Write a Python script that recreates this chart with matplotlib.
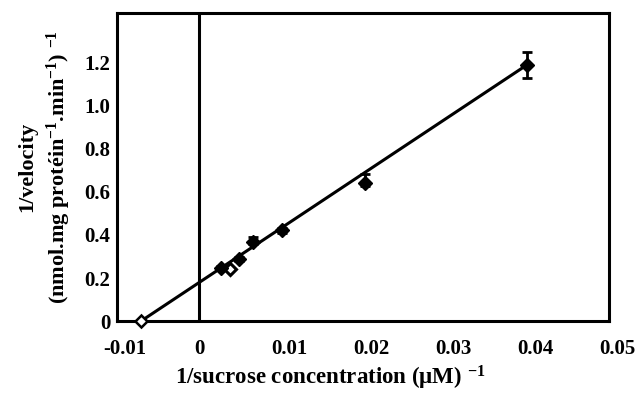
import numpy as np
import matplotlib
matplotlib.use("Agg")
import matplotlib.pyplot as plt
import matplotlib.transforms as mtrans

plt.rcParams['font.family'] = ['Liberation Serif', 'DejaVu Serif']
plt.rcParams['font.weight'] = 'bold'
plt.rcParams['axes.labelweight'] = 'bold'
plt.rcParams['mathtext.fontset'] = 'custom'
plt.rcParams['mathtext.rm'] = 'Liberation Serif:bold'
plt.rcParams['mathtext.it'] = 'Liberation Serif:bold'
plt.rcParams['mathtext.bf'] = 'Liberation Serif:bold'

# 測定点 (1/S, 1/v)
inv_s = [0.0026, 0.0048, 0.0066, 0.0101, 0.0202, 0.0400]
inv_v = [0.245, 0.287, 0.366, 0.421, 0.639, 1.190]
err_up = [0.010, 0.010, 0.025, 0.010, 0.045, 0.060]
err_dn = [0.010, 0.010, 0.010, 0.010, 0.010, 0.060]

# 白抜きの点
open_s = [0.0038]
open_v = [0.241]

# 回帰直線 (x切片 -> 最後の点)
fit_s = [-0.0071, 0.0400]
fit_v = [0.0, 1.190]

xticks = [-0.01, 0, 0.01, 0.02, 0.03, 0.04, 0.05]
xtick_labels = ["-0.01", "0", "0.01", "0.02", "0.03", "0.04", "0.05"]
yticks = [0, 0.2, 0.4, 0.6, 0.8, 1.0, 1.2]
ytick_labels = ["0", "0.2", "0.4", "0.6", "0.8", "1.0", "1.2"]

fig = plt.figure(figsize=(6.44, 3.94), dpi=100)
ax = fig.add_axes([0.182, 0.185, 0.764, 0.782])

ax.plot(fit_s, fit_v, color="black", lw=2.2, zorder=2)
ax.axvline(0, color="black", lw=2.2, zorder=1)

ax.errorbar(inv_s, inv_v, yerr=[err_dn, err_up], fmt="D", color="black",
            ms=7, elinewidth=2, capsize=3.5, capthick=2, zorder=3)
ax.plot(open_s, open_v, "D", ms=6, mfc="white", mec="black", mew=2.2, zorder=3)
ax.plot([fit_s[0]], [0], "D", ms=6, mfc="white", mec="black", mew=1.8,
        zorder=4, clip_on=False)

ax.set_xlim(-0.01, 0.05)
ax.set_ylim(0, 1.43)
ax.set_xticks(xticks)
ax.set_xticklabels(xtick_labels)
ax.set_yticks(yticks)
ax.set_yticklabels(ytick_labels)
ax.tick_params(length=0, labelsize=15)
ax.tick_params(axis="x", pad=13)
ax.tick_params(axis="y", pad=5)

for lab in ax.get_xticklabels():
    if lab.get_text() != "0":
        lab.set_transform(lab.get_transform() +
                          mtrans.ScaledTranslation(8 / 100, 0, fig.dpi_scale_trans))

for sp in ax.spines.values():
    sp.set_linewidth(2.2)

ax.set_xlabel(r"1/sucrose concentration ($\mathregular{\mu}$M) $^{\mathregular{-1}}$",
              fontsize=16.5)
ax.xaxis.set_label_coords(0.433, -0.14)
ax.set_ylabel("1/velocity\n(nmol.mg protéin$^{-1}$.min$^{-1}$) $^{-1}$",
              fontsize=16, labelpad=8, linespacing=1.4)

plt.savefig("out.png", dpi=100)
